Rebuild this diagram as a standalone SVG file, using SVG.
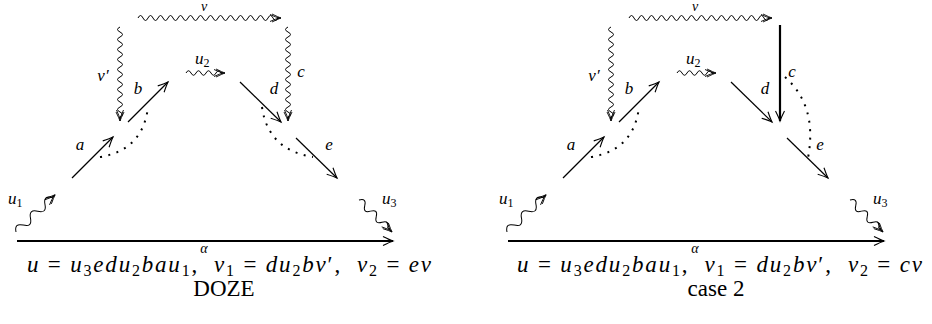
<svg xmlns="http://www.w3.org/2000/svg" width="932" height="324" viewBox="0 0 932 324" font-family="'Liberation Serif', 'DejaVu Serif', serif">
<style>
svg text{font-family:"Liberation Serif","DejaVu Serif","Times New Roman",serif;fill:#000}
.up{font-style:normal}
.lb{font-size:17px;font-style:italic}
.sm{font-size:14px;font-style:italic}
.sb{font-size:12px;font-style:normal}
.fm{font-size:23px;font-style:italic}
.fs{font-size:16px;font-style:normal}
.cap{font-size:23px;font-style:normal}
.ln{fill:none;stroke:#000;stroke-width:1.2}
.wv{fill:none;stroke:#000;stroke-width:1}
.al{fill:none;stroke:#000;stroke-width:2.2}
.dt{fill:none;stroke:#000;stroke-width:2;stroke-dasharray:2 6.5}
</style>
<defs>
<marker id="ah" markerUnits="userSpaceOnUse" orient="auto" refX="0" refY="0" overflow="visible">
<path d="M-10,-4.5 Q-3,-1 0,0 Q-3,1 -10,4.5" fill="none" stroke="#000" stroke-width="1.1"/>
</marker>
<marker id="ah2" markerUnits="userSpaceOnUse" orient="auto" refX="0" refY="0" overflow="visible">
<path d="M-9,-4 Q-3,-1 0,0 Q-3,1 -9,4 M-11,-3.5 Q-5,-0.8 -2,0 Q-5,0.8 -11,3.5" fill="none" stroke="#000" stroke-width="0.9"/>
</marker>
</defs>

<g id="doze">
<g id="doze-connectors">
<path class="wv" marker-end="url(#ah2)" d="M138,18 q2.5,-5 5,0 t5,0 t5,0 t5,0 t5,0 t5,0 t5,0 t5,0 t5,0 t5,0 t5,0 t5,0 t5,0 t5,0 t5,0 t5,0 t5,0 t5,0 t5,0 t5,0 t5,0 t5,0 t5,0 t5,0 t5,0 t5,0 t5,0 t5,0 h3"/>
<path class="wv" marker-end="url(#ah2)" d="M120,27 q-5,2.5 0,5 t0,5 t0,5 t0,5 t0,5 t0,5 t0,5 t0,5 t0,5 t0,5 t0,5 t0,5 t0,5 t0,5 t0,5 t0,5 t0,5 t0,5 v4"/>
<path class="wv" marker-end="url(#ah2)" d="M288,27 q-5,2.5 0,5 t0,5 t0,5 t0,5 t0,5 t0,5 t0,5 t0,5 t0,5 t0,5 t0,5 t0,5 t0,5 t0,5 t0,5 t0,5 t0,5 t0,5 v4"/>
<path class="wv" marker-end="url(#ah2)" d="M186,73 q2.5,-4.5 5,0 t5,0 t5,0 t5,0 t5,0 t5,0 t5,0 h4"/>
<path class="wv" marker-end="url(#ah2)" transform="translate(16,232) rotate(-43.6)" d="M0,0 q5,-8 10,0 t10,0 t10,0 t10,0 t10,0 h4"/>
<path class="wv" marker-end="url(#ah2)" transform="translate(359,200) rotate(44.1)" d="M0,0 q4,-7 8,0 t8,0 t8,0 t8,0 t8,0 h6"/>
<line class="ln" marker-end="url(#ah)" x1="72" y1="178" x2="113" y2="137"/>
<line class="ln" marker-end="url(#ah)" x1="128" y1="122" x2="168" y2="82"/>
<line class="ln" marker-end="url(#ah)" x1="240" y1="82" x2="281" y2="122"/>
<line class="ln" marker-end="url(#ah)" x1="296" y1="138" x2="337" y2="178"/>
<line class="al" marker-end="url(#ah)" x1="17" y1="241" x2="393" y2="241"/>
<path class="dt" d="M100,157 Q143,150 148,107"/>
<path class="dt" d="M262,107 Q268,150 313,157"/>
</g>
<g id="doze-labels" font-family="'Liberation Serif', 'DejaVu Serif', serif">
<text class="sm" x="204" y="11" text-anchor="middle">v</text>
<text class="lb" x="103" y="81" text-anchor="middle">v′</text>
<text class="lb" x="138" y="94" text-anchor="middle">b</text>
<text class="lb" x="195" y="64">u<tspan class="sb" dy="3">2</tspan></text>
<text class="lb" x="274" y="94" text-anchor="middle">d</text>
<text class="lb" x="301" y="77" text-anchor="middle">c</text>
<text class="lb" x="80" y="150" text-anchor="middle">a</text>
<text class="lb" x="329" y="150" text-anchor="middle">e</text>
<text class="lb" x="8" y="204">u<tspan class="sb" dy="3">1</tspan></text>
<text class="lb" x="382" y="204">u<tspan class="sb" dy="3">3</tspan></text>
<text class="sm" x="204" y="253" text-anchor="middle">α</text>
<text class="fm" x="27" y="272" textLength="404" lengthAdjust="spacing" xml:space="preserve">u <tspan class="up">=</tspan> u<tspan class="fs" dy="4">3</tspan><tspan dy="-4">edu</tspan><tspan class="fs" dy="4">2</tspan><tspan dy="-4">bau</tspan><tspan class="fs" dy="4">1</tspan><tspan class="up" dy="-4">,  </tspan>v<tspan class="fs" dy="4">1</tspan><tspan class="up" dy="-4"> = </tspan>du<tspan class="fs" dy="4">2</tspan><tspan dy="-4">bv</tspan><tspan class="up">′,  </tspan>v<tspan class="fs" dy="4">2</tspan><tspan class="up" dy="-4"> = </tspan>ev</text>
<text class="cap" x="224" y="296" text-anchor="middle">DOZE</text>
</g>
</g>

<g id="case2">
<g id="case2-connectors">
<path class="wv" marker-end="url(#ah2)" d="M629,18 q2.5,-5 5,0 t5,0 t5,0 t5,0 t5,0 t5,0 t5,0 t5,0 t5,0 t5,0 t5,0 t5,0 t5,0 t5,0 t5,0 t5,0 t5,0 t5,0 t5,0 t5,0 t5,0 t5,0 t5,0 t5,0 t5,0 t5,0 t5,0 t5,0 h3"/>
<path class="wv" marker-end="url(#ah2)" d="M611,27 q-5,2.5 0,5 t0,5 t0,5 t0,5 t0,5 t0,5 t0,5 t0,5 t0,5 t0,5 t0,5 t0,5 t0,5 t0,5 t0,5 t0,5 t0,5 t0,5 v4"/>
<line class="al" marker-end="url(#ah)" x1="780" y1="25" x2="780" y2="121"/>
<path class="wv" marker-end="url(#ah2)" d="M677,73 q2.5,-4.5 5,0 t5,0 t5,0 t5,0 t5,0 t5,0 t5,0 h4"/>
<path class="wv" marker-end="url(#ah2)" transform="translate(507,232) rotate(-43.6)" d="M0,0 q5,-8 10,0 t10,0 t10,0 t10,0 t10,0 h4"/>
<path class="wv" marker-end="url(#ah2)" transform="translate(850,200) rotate(44.1)" d="M0,0 q4,-7 8,0 t8,0 t8,0 t8,0 t8,0 h6"/>
<line class="ln" marker-end="url(#ah)" x1="563" y1="178" x2="604" y2="137"/>
<line class="ln" marker-end="url(#ah)" x1="619" y1="122" x2="659" y2="82"/>
<line class="ln" marker-end="url(#ah)" x1="731" y1="82" x2="772" y2="122"/>
<line class="ln" marker-end="url(#ah)" x1="787" y1="138" x2="828" y2="178"/>
<line class="al" marker-end="url(#ah)" x1="508" y1="241" x2="884" y2="241"/>
<path class="dt" d="M591,157 Q634,150 639,107"/>
<path class="dt" d="M785,77 C805,95 815,120 808,158"/>
</g>
<g id="case2-labels" font-family="'Liberation Serif', 'DejaVu Serif', serif">
<text class="sm" x="695" y="11" text-anchor="middle">v</text>
<text class="lb" x="594" y="81" text-anchor="middle">v′</text>
<text class="lb" x="629" y="94" text-anchor="middle">b</text>
<text class="lb" x="686" y="64">u<tspan class="sb" dy="3">2</tspan></text>
<text class="lb" x="765" y="94" text-anchor="middle">d</text>
<text class="lb" x="792" y="77" text-anchor="middle">c</text>
<text class="lb" x="571" y="150" text-anchor="middle">a</text>
<text class="lb" x="820" y="150" text-anchor="middle">e</text>
<text class="lb" x="499" y="204">u<tspan class="sb" dy="3">1</tspan></text>
<text class="lb" x="873" y="204">u<tspan class="sb" dy="3">3</tspan></text>
<text class="sm" x="695" y="253" text-anchor="middle">α</text>
<text class="fm" x="517" y="272" textLength="405" lengthAdjust="spacing" xml:space="preserve">u <tspan class="up">=</tspan> u<tspan class="fs" dy="4">3</tspan><tspan dy="-4">edu</tspan><tspan class="fs" dy="4">2</tspan><tspan dy="-4">bau</tspan><tspan class="fs" dy="4">1</tspan><tspan class="up" dy="-4">,  </tspan>v<tspan class="fs" dy="4">1</tspan><tspan class="up" dy="-4"> = </tspan>du<tspan class="fs" dy="4">2</tspan><tspan dy="-4">bv</tspan><tspan class="up">′,  </tspan>v<tspan class="fs" dy="4">2</tspan><tspan class="up" dy="-4"> = </tspan>cv</text>
<text class="cap" x="716" y="296" text-anchor="middle">case 2</text>
</g>
</g>
</svg>
